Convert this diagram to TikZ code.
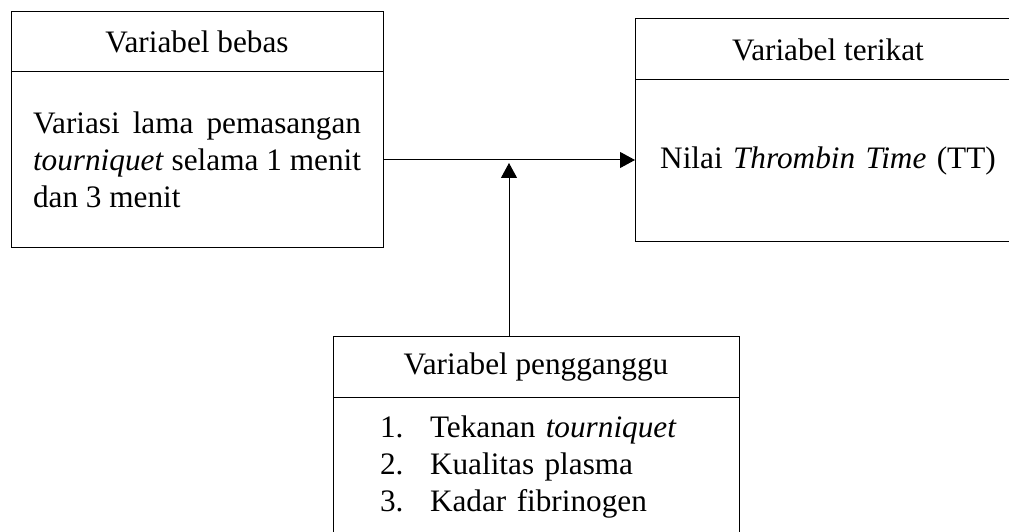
\documentclass[tikz,border=0pt]{standalone}
\usepackage{fontspec}
\setmainfont{Liberation Serif}
\usetikzlibrary{arrows.meta}

\begin{document}
\begin{tikzpicture}[x=0.4pt,y=-0.4pt,
    every node/.style={font=\fontsize{12.5}{14.8}\selectfont},
    kotak/.style={draw, thin, rectangle, outer sep=0pt, anchor=north west},
    panah/.style={thin, -{Triangle[length=6pt,width=6.4pt]}}]
    % batas gambar
    \useasboundingbox (0,0) rectangle (1009,532);
    \clip (0,0) rectangle (1009,532);
    % kotak variabel bebas
    \node[kotak, minimum width=148.8pt, minimum height=24pt] (bebas) at (11,12) {Variabel bebas};
    \node[kotak, inner xsep=8.8pt, text width=131.2pt, align=justify, minimum height=70.4pt] (bebasisi) at (11,72)
        {Variasi lama pemasangan\linebreak \textit{tourniquet} selama 1 menit\linebreak dan 3 menit};
    % kotak variabel terikat
    \node[kotak, minimum width=154.4pt, minimum height=24.4pt] (terikat) at (635,19) {Variabel terikat};
    \node[kotak, inner xsep=4pt, text width=146.4pt, align=center, minimum height=64.8pt] (terikatisi) at (635,80)
        {Nilai \textit{Thrombin Time} (TT)};
    % kotak variabel pengganggu
    \node[kotak, minimum width=162.4pt, minimum height=24.4pt] (ganggu) at (333,337) {Variabel pengganggu};
    \node[kotak, inner xsep=18.8pt, text width=124.8pt, align=left, minimum height=55.2pt] (ganggusisi) at (333,398)
        {\makebox[20pt][l]{1.}Tekanan \textit{tourniquet}\\
         \makebox[20pt][l]{2.}Kualitas plasma\\
         \makebox[20pt][l]{3.}Kadar fibrinogen};
    % panah
    \coordinate (ujung) at (509,163);
    \draw[panah] (bebasisi.east) -- (bebasisi.east -| terikatisi.west);
    \draw[panah] (ganggu.north -| ujung) -- (ujung);
\end{tikzpicture}
\end{document}
